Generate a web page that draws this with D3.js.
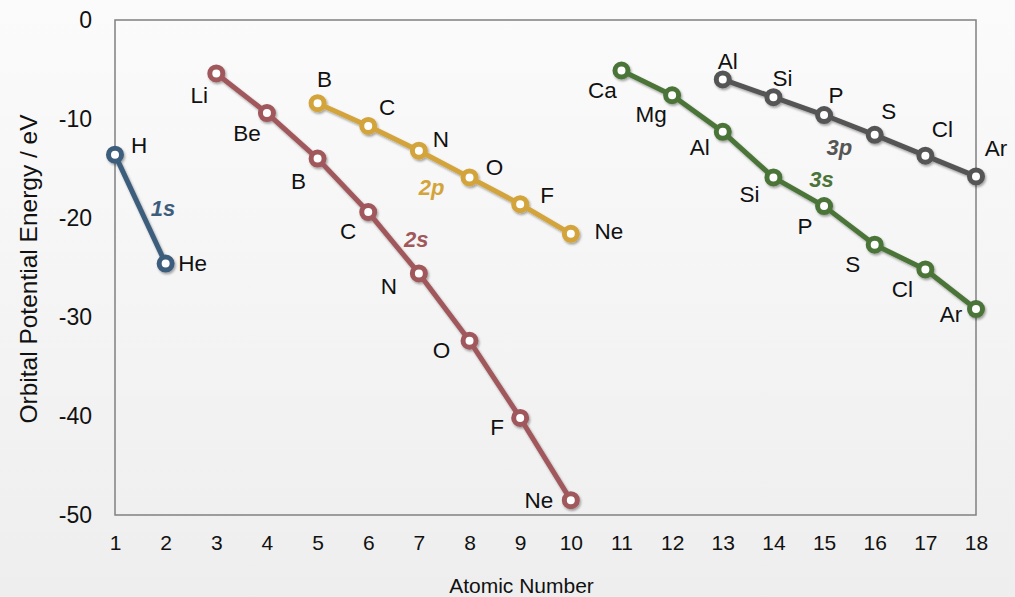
<!DOCTYPE html>
<html>
<head>
<meta charset="utf-8">
<script src="https://cdn.jsdelivr.net/npm/d3@7"></script>
<style>
  html, body { margin: 0; padding: 0; background: #f5f5f5; }
  svg { display: block; }
  text { font-family: "Liberation Sans", Arial, Helvetica, sans-serif; fill: #111; }
</style>
</head>
<body>
<svg id="chart" width="1015" height="597"></svg>
<script>
// ---------- data ----------
const xTicks = [1,2,3,4,5,6,7,8,9,10,11,12,13,14,15,16,17,18];
const yTicks = [0,-10,-20,-30,-40,-50];

const orbital1s = "1s";
const z1s = [1, 2];
const energy1s = [-13.6, -24.6];
const elements1s = ["H", "He"];

const orbital2s = "2s";
const z2s = [3, 4, 5, 6, 7, 8, 9, 10];
const energy2s = [-5.4, -9.4, -14.0, -19.4, -25.6, -32.4, -40.2, -48.5];
const elements2s = ["Li", "Be", "B", "C", "N", "O", "F", "Ne"];

const orbital2p = "2p";
const z2p = [5, 6, 7, 8, 9, 10];
const energy2p = [-8.4, -10.7, -13.2, -15.9, -18.6, -21.6];
const elements2p = ["B", "C", "N", "O", "F", "Ne"];

const orbital3s = "3s";
const z3s = [11, 12, 13, 14, 15, 16, 17, 18];
const energy3s = [-5.1, -7.6, -11.3, -15.9, -18.8, -22.7, -25.2, -29.2];
const elements3s = ["Ca", "Mg", "Al", "Si", "P", "S", "Cl", "Ar"];

const orbital3p = "3p";
const z3p = [13, 14, 15, 16, 17, 18];
const energy3p = [-6.0, -7.8, -9.6, -11.6, -13.7, -15.8];
const elements3p = ["Al", "Si", "P", "S", "Cl", "Ar"];

// ---------- layout (not data) ----------
const W = 1015, H = 597;
const margin = { left: 115, right: W - 976, top: 20, bottom: H - 515 };
const colors = { "1s": "#3e5d7c", "2s": "#a0585b", "2p": "#d3a43a", "3s": "#4b7439", "3p": "#555555" };
// element-label offsets from their points (px)
const labelOffsets = {
  "1s": [[24, -9], [27, 0]],
  "2s": [[-17, 22], [-20, 20], [-19, 23], [-20, 19], [-30, 13], [-28, 10], [-23, 10], [-32, 0]],
  "2p": [[7, -24], [19, -18], [22, -11], [25, -10], [27, -9], [38, -2]],
  "3s": [[-19, 20], [-21, 19], [-23, 16], [-24, 17], [-19, 20], [-22, 20], [-23, 20], [-25, 5]],
  "3p": [[5, -18], [9, -19], [12, -20], [14, -23], [17, -26], [20, -28]]
};
// orbital-name label positions, given in data units (x, energy)
const orbitalLabelPos = {
  "1s": [2 - 0.05, -19.0], "2s": [7.0 - 0.05, -22.1], "2p": [7.25, -16.9],
  "3s": [14.95, -16.1], "3p": [15.3, -12.8]
};

const series = [
  { name: orbital1s, z: z1s, e: energy1s, el: elements1s },
  { name: orbital2s, z: z2s, e: energy2s, el: elements2s },
  { name: orbital2p, z: z2p, e: energy2p, el: elements2p },
  { name: orbital3s, z: z3s, e: energy3s, el: elements3s },
  { name: orbital3p, z: z3p, e: energy3p, el: elements3p }
];

const svg = d3.select("#chart");
const defs = svg.append("defs");
const grad = defs.append("linearGradient").attr("id", "bg").attr("x1", 0).attr("y1", 0).attr("x2", 0).attr("y2", 1);
grad.append("stop").attr("offset", "0%").attr("stop-color", "#fbfbfb");
grad.append("stop").attr("offset", "100%").attr("stop-color", "#eeeeee");
const f = defs.append("filter").attr("id", "shadow").attr("x", "-20%").attr("y", "-20%").attr("width", "140%").attr("height", "140%");
f.append("feDropShadow").attr("dx", 1.2).attr("dy", 1.8).attr("stdDeviation", 1.3)
  .attr("flood-color", "#000").attr("flood-opacity", 0.35);

svg.append("rect").attr("width", W).attr("height", H).attr("fill", "url(#bg)");

const x = d3.scaleLinear().domain([1, 18]).range([margin.left, W - margin.right]);
const y = d3.scaleLinear().domain([-50, 0]).range([H - margin.bottom, margin.top]);

// frame
svg.append("rect")
  .attr("x", x(1)).attr("y", y(0))
  .attr("width", x(18) - x(1)).attr("height", y(-50) - y(0))
  .attr("fill", "none").attr("stroke", "#808080").attr("stroke-width", 1.5);

// axes
const fmt = d => String(d).replace("\u2212", "-");
const xAxis = svg.append("g").attr("transform", `translate(0,${y(-50)})`)
  .call(d3.axisBottom(x).tickValues(xTicks).tickSize(0).tickPadding(20).tickFormat(fmt));
xAxis.select(".domain").remove();
xAxis.selectAll("text").style("font-size", "21px").style("fill", "#111")
  .style("font-family", '"Liberation Sans", Arial, sans-serif');

const yAxis = svg.append("g").attr("transform", `translate(${x(1)},0)`)
  .call(d3.axisLeft(y).tickValues(yTicks).tickSize(0).tickPadding(23).tickFormat(fmt));
yAxis.select(".domain").remove();
yAxis.selectAll("text").style("font-size", "23px").style("fill", "#111")
  .style("font-family", '"Liberation Sans", Arial, sans-serif');

// axis titles
svg.append("text").attr("x", (x(1) + x(18)) / 2 - 24).attr("y", 593)
  .attr("text-anchor", "middle").style("font-size", "21px").text("Atomic Number");
svg.append("text").attr("transform", `translate(37,269) rotate(-90)`)
  .attr("text-anchor", "middle").style("font-size", "24.5px").text("Orbital Potential Energy / eV");

// series
const line = d3.line().x(d => x(d[0])).y(d => y(d[1]));
series.forEach(s => {
  const pts = s.z.map((z, i) => [z, s.e[i], s.el[i]]);
  const g = svg.append("g").attr("filter", "url(#shadow)");
  g.append("path").datum(pts).attr("d", line)
    .attr("fill", "none").attr("stroke", colors[s.name]).attr("stroke-width", 5)
    .attr("stroke-linejoin", "round");
  g.selectAll("circle").data(pts).join("circle")
    .attr("cx", d => x(d[0])).attr("cy", d => y(d[1])).attr("r", 6.5)
    .attr("fill", "#fff").attr("stroke", colors[s.name]).attr("stroke-width", 5);
});

// element labels
series.forEach(s => {
  const offs = labelOffsets[s.name];
  svg.append("g").selectAll("text").data(s.z.map((z, i) => [z, s.e[i], s.el[i], offs[i]])).join("text")
    .attr("x", d => x(d[0]) + d[3][0]).attr("y", d => y(d[1]) + d[3][1])
    .attr("text-anchor", "middle").attr("dominant-baseline", "central")
    .style("font-size", "22.5px").text(d => d[2]);
});

// orbital labels
series.forEach(s => {
  const p = orbitalLabelPos[s.name];
  const t = svg.append("text").attr("x", x(p[0])).attr("y", y(p[1]))
    .attr("text-anchor", "middle").attr("dominant-baseline", "central")
    .style("font-size", "22px").style("font-weight", "bold").style("font-style", "italic")
    .style("fill", colors[s.name]);
  t.append("tspan").text(s.name[0]);
  t.append("tspan").text(s.name[1]);
});
</script>
</body>
</html>
